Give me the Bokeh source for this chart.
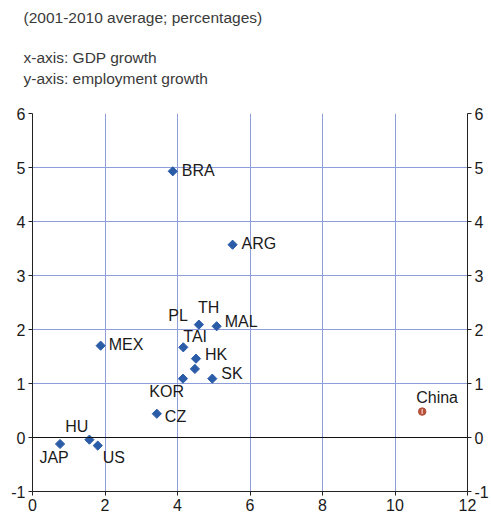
import numpy as np
from bokeh.plotting import figure
from bokeh.models import (Range1d, LinearAxis, FixedTicker, Span, Title, ColumnDataSource)
from bokeh.core.properties import value
from bokeh.embed import file_html
from bokeh.resources import INLINE

# ---- data (2001-2010 averages, %) ----
countries = ["BRA", "ARG", "TH", "PL", "MAL", "TAI", "HK", "KOR", "SK", "MEX", "CZ", "HU", "US", "JAP"]
gdp_growth = [3.87, 5.52, 4.59, 4.48, 5.08, 4.16, 4.51, 4.15, 4.96, 1.88, 3.43, 1.57, 1.80, 0.76]
emp_growth = [4.93, 3.57, 2.09, 1.27, 2.06, 1.67, 1.46, 1.09, 1.09, 1.70, 0.44, -0.04, -0.15, -0.12]
china_name = ["China"]
china_gdp = [10.75]
china_emp = [0.48]
x_ticks = [0, 2, 4, 6, 8, 10, 12]
y_ticks = [-1, 0, 1, 2, 3, 4, 5, 6]

# ---- label styling (screen offsets, px) ----
label_style = {
    "BRA": (9, -1, "left"), "ARG": (9, -1, "left"), "TH": (-1, -17, "left"),
    "PL": (-7, -53, "right"), "MAL": (8, -5, "left"), "TAI": (0, -11, "left"),
    "HK": (9, -4, "left"), "KOR": (1, 13, "right"), "SK": (9, -5, "left"),
    "MEX": (8, -1, "left"), "CZ": (8, 3, "left"), "HU": (-1, -13, "right"),
    "US": (5, 12, "left"), "JAP": (-6, 14, "center"), "China": (-6, -14, "left"),
}

FONT = "Liberation Sans"
BLUE = "#2b5ca8"
GRID = "#8e9edb"
TCOL = "#3a3a3a"

p = figure(width=491, height=513, output_backend="svg", toolbar_location=None,
           x_range=Range1d(0, 12), y_range=Range1d(-1, 6),
           title="(2001-2010 average; percentages)",
           min_border_left=32, min_border_right=22, min_border_bottom=22, min_border_top=0)
p.outline_line_color = None
p.background_fill_color = "white"

# titles: p.title is outermost; added titles stack outward from the frame
def style_title(t, standoff):
    t.align = "left"
    t.offset = -9
    t.text_font = FONT
    t.text_font_size = "15.5px"
    t.text_font_style = "normal"
    t.text_color = TCOL
    t.standoff = standoff

def spacer(standoff):
    return Title(text=" ", text_font_size="1px", standoff=standoff)

style_title(p.title, 13)
p.add_layout(spacer(22), "above")
t_inner = Title(text="y-axis: employment growth")
style_title(t_inner, 4)
p.add_layout(t_inner, "above")
t_mid = Title(text="x-axis: GDP growth")
style_title(t_mid, 0)
p.add_layout(t_mid, "above")
p.add_layout(spacer(11), "above")

# grids
p.xgrid.ticker = FixedTicker(ticks=[t for t in x_ticks if 0 < t < 12])
p.ygrid.ticker = FixedTicker(ticks=y_ticks)
for g in (p.xgrid, p.ygrid):
    g.grid_line_color = GRID
    g.grid_line_width = 1

def style_axis(ax, ticks):
    ax.ticker = FixedTicker(ticks=ticks)
    ax.major_label_overrides = {t: str(t) for t in ticks}
    ax.axis_line_color = "#222222"
    ax.major_tick_line_color = "#222222"
    ax.major_tick_in = 0
    ax.major_tick_out = 4
    ax.minor_tick_line_color = None
    ax.major_label_text_font = FONT
    ax.major_label_text_font_size = "16px"
    ax.major_label_text_color = "#1a1a1a"
    ax.major_label_standoff = 3

style_axis(p.xaxis[0], x_ticks)
style_axis(p.yaxis[0], y_ticks)
right = LinearAxis()
style_axis(right, y_ticks)
p.add_layout(right, "right")

p.add_layout(Span(location=0, dimension="width", line_color="#111111", line_width=1))

# points
p.scatter(gdp_growth, emp_growth, marker="square", angle=np.pi / 4, size=6.5,
          fill_color=BLUE, line_color=BLUE)
p.scatter(china_gdp, china_emp, marker="circle", size=7.5,
          fill_color="#b5503a", line_color="#b5503a")
p.scatter(china_gdp, china_emp, marker="dash", angle=np.pi / 2, size=5,
          line_color="#f0b8a8", line_width=1.5)

# labels
names = countries + china_name
xs = gdp_growth + china_gdp
ys = emp_growth + china_emp
for align in ("left", "right", "center"):
    idx = [i for i, n in enumerate(names) if label_style[n][2] == align]
    src = ColumnDataSource(dict(
        x=[xs[i] for i in idx], y=[ys[i] for i in idx], t=[names[i] for i in idx],
        dx=[label_style[names[i]][0] for i in idx], dy=[label_style[names[i]][1] for i in idx]))
    p.text(x="x", y="y", text="t", x_offset="dx", y_offset="dy", source=src,
           text_align=align, text_baseline="middle", text_font=value(FONT),
           text_font_size="16px", text_color="#1a1a1a")

open("out.html", "w").write(file_html(p, INLINE))
